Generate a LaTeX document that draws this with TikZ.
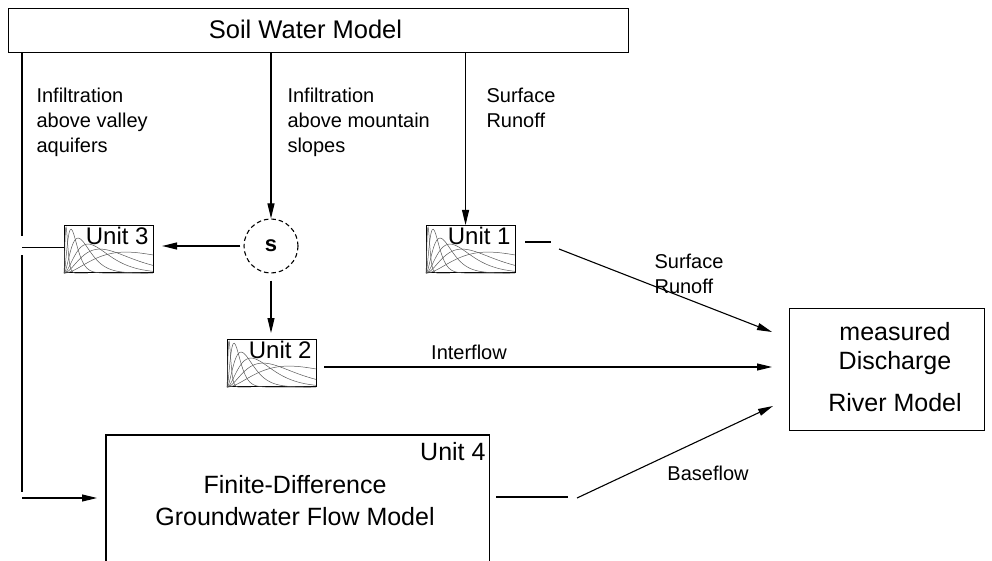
\documentclass[tikz,border=0pt]{standalone}
\usepackage{fontspec}
\setmainfont{Liberation Sans}
\usetikzlibrary{arrows.meta}
\newcommand\ucurves[1]{%
  \begin{scope}[shift={(#1.south west)}]
    \foreach \p/\h/\d in {2/46/24, 7/44/84, 14/35/89, 24/29/89, 36/24/89, 62/21/89} {
      \draw[curve] plot[domain=0:\d, samples=70, smooth] (\x, {-\h*(\x/\p)*(\x/\p)*exp(2*(1-\x/\p))});
    }
  \end{scope}}
\begin{document}
\begin{tikzpicture}[x=1pt,y=-1pt,
  line width=1.1pt,
  box/.style={draw, rectangle, inner sep=0pt, anchor=north west},
  ubox/.style={box, minimum width=89pt, minimum height=47pt},
  arr/.style={-{Triangle[length=15pt,width=7pt]}},
  lbl/.style={font=\fontsize{20}{25}\selectfont, align=left, anchor=base west, inner sep=0pt},
  big/.style={font=\fontsize{25}{31}\selectfont, inner sep=0pt},
  ulbl/.style={font=\fontsize{24}{28}\selectfont, anchor=base east, inner sep=0pt},
  curve/.style={line width=0.5pt, black!65},
]
\useasboundingbox (0,0) rectangle (992,561);
\clip (0,0) rectangle (992,561);

% top box
\node[box, minimum width=620pt, minimum height=44pt] (soil) at (8,8) {};
\node[big, font=\fontsize{25.5}{30}\selectfont, anchor=base] (soilt) at (305.5,39) {Soil Water Model};

% labels (anchor = baseline of last line)
\node[lbl] (l1) at (36,153) {Infiltration\\above valley\\aquifers};
\node[lbl] (l2) at (287,153) {Infiltration\\above mountain\\slopes};
\node[lbl] (l3) at (486,128) {Surface\\Runoff};
\node[lbl] (l4) at (654,293) {Surface\\Runoff};
\node[lbl, anchor=base] (l5) at (469,359) {Interflow};
\node[lbl, anchor=base] (l6) at (708,480) {Baseflow};

% storage circle
\node[draw, circle, dash pattern=on 4.5pt off 3pt, minimum size=54pt, inner sep=0pt,
      font=\bfseries\fontsize{22}{26}\selectfont] (s) at (271,246) {s};

% unit hydrograph boxes
\node[ubox] (u3) at (64,225) {};
\node[ubox] (u1) at (426,225) {};
\node[ubox] (u2) at (227,339) {};
\ucurves{u3}
\ucurves{u1}
\ucurves{u2}
\node[ulbl, xshift=-5pt, yshift=-19pt] (u3t) at (u3.north east) {Unit 3};
\node[ulbl, xshift=-5pt, yshift=-19pt] (u1t) at (u1.north east) {Unit 1};
\node[ulbl, xshift=-5pt, yshift=-19pt] (u2t) at (u2.north east) {Unit 2};

% groundwater model
\node[rectangle, inner sep=0pt, anchor=north west, minimum width=382pt, minimum height=140pt] (u4) at (106,435) {};
\draw (u4.south west) -- (u4.north west) -- (u4.north east) -- (u4.south east);
\node[ulbl, font=\fontsize{25}{30}\selectfont, xshift=-3pt, yshift=-25pt] (u4t) at (u4.north east) {Unit 4};
\node[big, anchor=base] (fd) at (295,493) {Finite-Difference};
\node[big, anchor=base] (gw) at (295,525) {Groundwater Flow Model};

% river model
\node[box, minimum width=195pt, minimum height=122pt] (riv) at (789,308) {};
\node[big, anchor=base] (r1) at (895,340) {measured};
\node[big, anchor=base] (r2) at (895,369) {Discharge};
\node[big, anchor=base] (r3) at (895,411) {River Model};

% coordinates for free ends
\coordinate (cA) at (22,236);
\coordinate (cB) at (22,255);
\coordinate (cC) at (22,492);
\coordinate (cD) at (22,498);
\coordinate (u1in) at ([xshift=-5.5pt]u1.north);
\coordinate (e1) at (551,242);
\coordinate (f1) at (559,249);
\coordinate (t1) at (772,332);
\coordinate (t2) at (772,367);
\coordinate (b0) at (568,497);
\coordinate (b1) at (577,498);
\coordinate (t3) at (773,406);

% left branch
\draw (soil.south -| cA) -- (cA);
\draw ([yshift=2pt]u3.west) -- ([yshift=2pt]u3.west -| cA);
\draw (cB) -- (cC);
\draw[arr, shorten >=9pt] (cD) -- (u4.west |- cD);

% middle branch
\draw[arr] (soil.south -| s) -- (s.north);
\draw[arr, shorten <=3pt, shorten >=8pt] (s.west) -- (s.west -| u3.east);
\draw[arr, shorten <=7pt, shorten >=6pt] (s.south) -- (s.south |- u2.north);

% right branch
\draw[arr] (soil.south -| u1in) -- (u1in);
\draw ([xshift=9pt]u1.east |- e1) -- (e1);
\draw[arr] (f1) -- (t1);

% interflow
\draw[arr, shorten <=7pt] (u2.east |- t2) -- (t2);

% baseflow
\draw ([xshift=7pt]u4.east |- b0) -- (b0);
\draw[arr] (b1) -- (t3);
\end{tikzpicture}
\end{document}
